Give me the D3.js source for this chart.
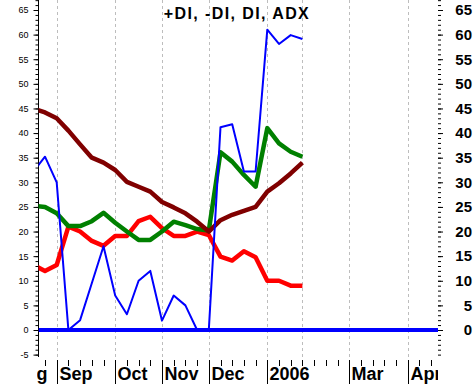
<!DOCTYPE html>
<html lang="en">
<head>
    <meta charset="UTF-8">
    <title>+DI, -DI, DI, ADX</title>
    <script src="https://d3js.org/d3.v7.min.js"></script>
    <style>
        body { margin: 0; background: white; }
        text { font-family: "Liberation Sans", Arial, sans-serif; }
    </style>
</head>
<body>
<script>
    // weekly bars, week 0 = first week of Sep 2005
    const weeks   = [-2, -1, 0, 1, 2, 3, 4, 5, 6, 7, 8, 9, 10, 11, 12, 13, 14, 15, 16, 17, 18, 19, 20, 21];
    const plusDI  = [25.2, 25, 23.7, 21.1, 21.1, 22.1, 23.8, 21.8, 20, 18.3, 18.3, 20, 22, 21.3, 20.5, 20.2, 36.1, 34.2, 31.5, 29.1, 41, 37.9, 36.2, 35.2];
    const minusDI = [13.2, 12, 13.2, 21, 20, 18.1, 17.1, 19.1, 19.1, 22.1, 23, 20.7, 19.1, 19.1, 20, 19.3, 14.9, 14.1, 16, 14.8, 10, 10, 9, 9];
    const diLine  = [32.2, 35.2, 30, 0, 2, 9.5, 17, 7, 3.2, 10, 12, 1.9, 7, 5, 0, 0, 41.2, 41.8, 32.2, 32.2, 61, 58.1, 59.9, 59.1];
    const adx     = [45, 44.2, 43, 40.5, 37.7, 35, 34, 32.5, 30.1, 29.1, 28.1, 26, 24.9, 23.7, 22, 20, 22.3, 23.4, 24.2, 25, 28.1, 29.8, 31.8, 34];

    const monthLabels = ["Aug", "Sep", "Oct", "Nov", "Dec", "2006", "", "Mar", "Apr"];
    const monthWeeks  = [-4, 0, 5, 9, 13, 18, 21, 25, 30];
    const axisWeeks   = [-1, 0, 1, 2, 3, 4, 5, 6, 7, 8, 9, 10, 11, 12, 13, 14, 15, 16, 17, 18, 19, 20, 21, 22, 23, 24, 25, 26, 27, 28, 29, 30, 31, 32];
    const yLabels     = [-5, 0, 5, 10, 15, 20, 25, 30, 35, 40, 45, 50, 55, 60, 65];

    const W = 476, H = 385;
    const plotL = 38.5, plotR = 438, plotT = 0, plotB = 357;

    const svg = d3.select("body").append("svg")
        .attr("width", W).attr("height", H);

    const x = d3.scaleLinear().domain([0, 30]).range([56.7, 407.7]);
    const y = d3.scaleLinear().domain([0, 65]).range([330, 10]);
    const yMinor = d3.range(Math.ceil(y.invert(plotB)), Math.floor(y.invert(plotT)) + 1);

    svg.append("clipPath").attr("id", "plot")
        .append("rect").attr("x", plotL).attr("y", plotT)
        .attr("width", plotR - plotL).attr("height", plotB - plotT + 3);
    svg.append("clipPath").attr("id", "lab")
        .append("rect").attr("x", 37).attr("y", 0).attr("width", plotR - 37).attr("height", H);

    // month grid lines
    svg.append("g").selectAll("line")
        .data(monthWeeks.filter(d => x(d) > plotL && x(d) < plotR))
        .join("line")
        .attr("x1", d => Math.round(x(d)) + 0.5).attr("x2", d => Math.round(x(d)) + 0.5)
        .attr("y1", plotT).attr("y2", plotB + 2)
        .attr("stroke", "#bdbdbd").attr("stroke-dasharray", "3,3");

    // title
    svg.append("text")
        .attr("x", 237).attr("y", 18.5)
        .attr("text-anchor", "middle")
        .style("font-size", "16px").style("font-weight", "bold")
        .style("letter-spacing", "1.4px")
        .text("+DI, -DI, DI, ADX");

    // left axis
    const gl = svg.append("g").attr("transform", `translate(${plotL},0)`);
    gl.append("line").attr("y1", plotT).attr("y2", plotB).attr("stroke", "black");
    gl.call(d3.axisLeft(y).tickValues(yMinor).tickSize(3).tickFormat(""));
    gl.append("g").call(d3.axisLeft(y).tickValues(yLabels).tickSize(5).tickPadding(5).tickFormat(d => d));
    gl.selectAll(".domain").remove();
    gl.selectAll("text").style("font-size", "9px").style("font-family", "Liberation Sans, Arial, sans-serif");

    // right axis
    const gr = svg.append("g").attr("transform", `translate(${plotR},0)`);
    gr.call(d3.axisRight(y).tickValues(yMinor).tickSize(3).tickFormat(""));
    gr.append("g").call(d3.axisRight(y).tickValues(yLabels.filter(d => d >= 0)).tickSize(5).tickFormat(d => d));
    gr.selectAll(".domain").remove();
    gr.selectAll("text")
        .attr("x", 34).attr("text-anchor", "end")
        .style("font-size", "15px").style("font-weight", "bold")
        .style("font-family", "Liberation Sans, Arial, sans-serif");

    // bottom weekly ticks
    const labelled = monthWeeks.filter((d, i) => monthLabels[i] !== "");
    svg.append("g").selectAll("line")
        .data(axisWeeks.filter(d => !labelled.includes(d)))
        .join("line")
        .attr("x1", d => Math.round(x(d)) + 0.5).attr("x2", d => Math.round(x(d)) + 0.5)
        .attr("y1", 360).attr("y2", 366)
        .attr("stroke", "black");

    // month labels
    const gm = svg.append("g").attr("clip-path", "url(#lab)")
        .selectAll("g")
        .data(monthWeeks.map((d, i) => ({w: d, label: monthLabels[i]})).filter(d => d.label !== ""))
        .join("g")
        .attr("transform", d => `translate(${Math.round(x(d.w)) + 0.5},0)`);
    gm.append("line").attr("y1", 360).attr("y2", 384).attr("stroke", "black");
    gm.append("text")
        .attr("x", 2).attr("y", 380)
        .style("font-size", "18px").style("font-weight", "bold")
        .text(d => d.label);

    // series
    const plot = svg.append("g").attr("clip-path", "url(#plot)");

    plot.append("line")
        .attr("x1", plotL).attr("x2", plotR)
        .attr("y1", y(0)).attr("y2", y(0))
        .attr("stroke", "#0000ff").attr("stroke-width", 4);

    const series = [
        {values: minusDI, color: "#ff0000", width: 4.5},
        {values: plusDI, color: "#008000", width: 4.5},
        {values: adx, color: "#800000", width: 4.5},
        {values: diLine, color: "#0000ff", width: 2}
    ];

    const line = d3.line()
        .x(d => x(d[0]))
        .y(d => y(d[1]));

    plot.selectAll("path.series")
        .data(series)
        .join("path")
        .attr("class", "series")
        .attr("d", s => line(weeks.map((w, i) => [w, s.values[i]])))
        .attr("fill", "none")
        .attr("stroke", s => s.color)
        .attr("stroke-width", s => s.width)
        .attr("stroke-linejoin", "round");
</script>
</body>
</html>
